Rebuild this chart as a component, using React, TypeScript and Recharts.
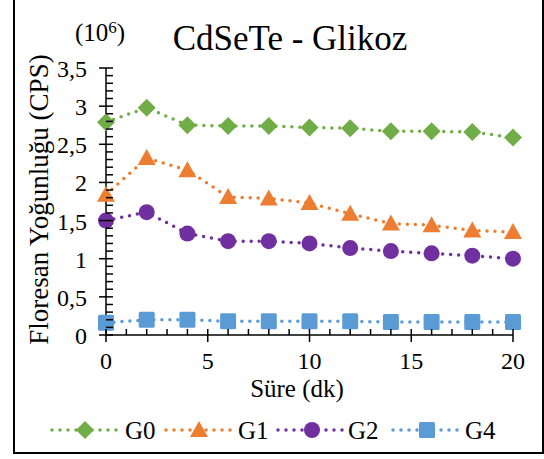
import * as React from "react"
import { LineChart, Line, XAxis, YAxis } from "recharts"

const minutes = [0, 2, 4, 6, 8, 10, 12, 14, 16, 18, 20]
const g0 = [2.79, 2.98, 2.75, 2.74, 2.74, 2.72, 2.71, 2.67, 2.67, 2.66, 2.59]
const g1 = [1.84, 2.32, 2.16, 1.81, 1.79, 1.73, 1.59, 1.46, 1.44, 1.37, 1.35]
const g2 = [1.5, 1.61, 1.33, 1.23, 1.23, 1.2, 1.14, 1.1, 1.07, 1.04, 1.0]
const g4 = [0.16, 0.2, 0.2, 0.18, 0.18, 0.18, 0.18, 0.17, 0.17, 0.17, 0.17]

const seriesNames = ["G0", "G1", "G2", "G4"]
const colors = ["#70AD47", "#ED7D31", "#7030A0", "#5B9BD5"]
const shapes = ["diamond", "triangle", "circle", "square"]

// every 1 min gets a tick, labels every 5
const xTicks = Array.from({ length: 21 }, (_, i) => i)
// every 0.1 gets a tick, labels every 0.5
const yTicks = Array.from({ length: 36 }, (_, i) => i / 10)

const data = minutes.map((m, i) => ({ t: m, G0: g0[i], G1: g1[i], G2: g2[i], G4: g4[i] }))

const FONT = "Liberation Serif, DejaVu Serif, serif"
const DOTTED = { strokeWidth: 3.5, strokeDasharray: "0 8", strokeLinecap: "round" as const }

function Marker({ shape, cx, cy, color }: { shape: string; cx: number; cy: number; color: string }) {
  if (shape === "diamond")
    return <path d={`M${cx},${cy - 9}L${cx + 9},${cy}L${cx},${cy + 9}L${cx - 9},${cy}Z`} fill={color} />
  if (shape === "triangle")
    return <path d={`M${cx},${cy - 9}L${cx + 9},${cy + 7}L${cx - 9},${cy + 7}Z`} fill={color} />
  if (shape === "circle") return <circle cx={cx} cy={cy} r={8} fill={color} />
  return <rect x={cx - 8} y={cy - 8} width={16} height={16} rx={1.5} fill={color} />
}

const XTick = (props: any) => {
  const { x, y, payload } = props
  const v = payload.value
  const major = v % 5 === 0
  return (
    <g>
      <line x1={x} x2={x} y1={y - 6} y2={major ? y + 7 : y} stroke="#000" strokeWidth={1.5} />
      {major && (
        <text x={x} y={y + 34} textAnchor="middle" fontSize={24} fontFamily={FONT} fill="#000">
          {v}
        </text>
      )}
    </g>
  )
}

const YTick = (props: any) => {
  const { x, y, payload } = props
  const v = payload.value
  const major = Math.abs(v * 2 - Math.round(v * 2)) < 1e-6
  return (
    <g>
      <line x1={major ? x - 7 : x} x2={x + 7} y1={y} y2={y} stroke="#000" strokeWidth={1.5} />
      {major && (
        <text x={x - 19} y={y + 9} textAnchor="end" fontSize={24} fontFamily={FONT} fill="#000">
          {String(v).replace(".", ",")}
        </text>
      )}
    </g>
  )
}

const YTitle = (props: any) => {
  const cx = 39
  const cy = props.viewBox.y + props.viewBox.height / 2 - 2
  return (
    <text x={cx} y={cy} transform={`rotate(-90 ${cx} ${cy})`} textAnchor="middle" dominantBaseline="central" fontSize={27} fontFamily={FONT} fill="#000">
      Floresan Yoğunluğu (CPS)
    </text>
  )
}

const XTitle = (props: any) => (
  <text x={297} y={props.viewBox.y + 62} textAnchor="middle" fontSize={25} fontFamily={FONT} fill="#000">
    Süre (dk)
  </text>
)

const legendPos = [
  { line: [52, 117], mark: 85, text: 125 },
  { line: [166, 232], mark: 199, text: 238 },
  { line: [278, 343], mark: 312, text: 348 },
  { line: [393, 460], mark: 427, text: 465 },
]

export default function App() {
  const series = [
    { key: "G0", i: 0 },
    { key: "G1", i: 1 },
    { key: "G2", i: 2 },
    { key: "G4", i: 3 },
  ]
  return (
    <div style={{ position: "absolute", left: 0, top: 0, width: 544, height: 459, background: "#fff", fontFamily: FONT }}>
      <div
        style={{
          position: "absolute",
          left: 13,
          top: -4,
          width: 527,
          height: 454,
          border: "2px solid #000",
        }}
      />
      <svg style={{ position: "absolute", left: 0, top: 0 }} width={544} height={60}>
        <text x={290} y={50} textAnchor="middle" fontSize={35} fontFamily={FONT} fill="#000">
          CdSeTe - Glikoz
        </text>
        <text x={75} y={41} fontSize={25} fontFamily={FONT} fill="#000">
          (10
          <tspan fontSize={17} dy={-8}>6</tspan>
          <tspan dy={8}>)</tspan>
        </text>
      </svg>
      <div style={{ position: "absolute", left: 0, top: 0 }}>
        <LineChart width={544} height={459} data={data} margin={{ top: 68, right: 31, bottom: 0, left: 0 }}>
          <XAxis
            dataKey="t"
            type="number"
            domain={[0, 20]}
            ticks={xTicks}
            interval={0}
            height={124}
            tickSize={0}
            tickMargin={0}
            tick={<XTick />}
            axisLine={{ stroke: "#000", strokeWidth: 1.5 }}
            label={<XTitle />}
          />
          <YAxis
            type="number"
            domain={[0, 3.5]}
            ticks={yTicks}
            interval={0}
            width={106}
            tickSize={0}
            tickMargin={0}
            tick={<YTick />}
            axisLine={{ stroke: "#000", strokeWidth: 1.5 }}
            label={<YTitle />}
          />
          {series.map(({ key, i }) => (
            <Line
              key={key}
              dataKey={key}
              stroke={colors[i]}
              {...DOTTED}
              isAnimationActive={false}
              dot={(p: any) => <Marker key={`${key}-${p.index}`} shape={shapes[i]} cx={p.cx} cy={p.cy} color={colors[i]} />}
              activeDot={false}
            />
          ))}
        </LineChart>
      </div>
      <svg style={{ position: "absolute", left: 0, top: 412 }} width={544} height={40}>
        {seriesNames.map((name, i) => {
          const p = legendPos[i]
          return (
            <g key={name}>
              <line x1={p.line[0]} x2={p.line[1]} y1={18} y2={18} stroke={colors[i]} {...DOTTED} />
              <Marker shape={shapes[i]} cx={p.mark} cy={18} color={colors[i]} />
              <text x={p.text} y={27} fontSize={25} fontFamily={FONT} fill="#000">
                {name}
              </text>
            </g>
          )
        })}
      </svg>
    </div>
  )
}
